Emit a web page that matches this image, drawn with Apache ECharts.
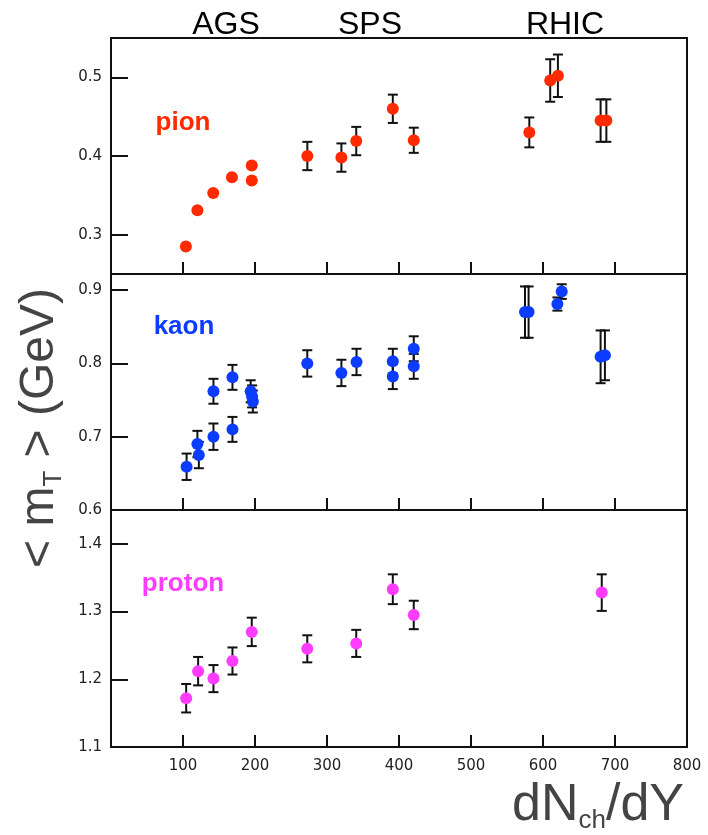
<!DOCTYPE html>
<html>
<head>
<meta charset="utf-8">
<script src="https://cdn.jsdelivr.net/npm/echarts@6/dist/echarts.min.js"></script>
<style>
  html, body { margin: 0; padding: 0; background: #fff; }
  #chart { width: 708px; height: 835px; }
</style>
</head>
<body>
<div id="chart"></div>
<script>
// <mT> vs dNch/dY
var pionX   = [104, 120, 142, 168, 195.5, 195.5, 272.7, 320, 340.6, 391.4, 420.5, 581, 610, 620.7, 680, 688];
var pionY   = [0.285, 0.331, 0.353, 0.373, 0.388, 0.369, 0.400, 0.398, 0.419, 0.460, 0.420, 0.430, 0.496, 0.502, 0.445, 0.445];
var pionErr = [0, 0, 0, 0, 0, 0, 0.018, 0.018, 0.018, 0.018, 0.016, 0.019, 0.027, 0.027, 0.027, 0.027];

var kaonX   = [105, 120, 122, 142.3, 142.3, 168.7, 168.7, 194, 196, 197, 272.6, 320, 341, 391.4, 391.4, 420.5, 420.5, 575, 580, 620, 626, 680, 686];
var kaonY   = [0.659, 0.690, 0.675, 0.762, 0.700, 0.781, 0.710, 0.762, 0.755, 0.748, 0.800, 0.787, 0.802, 0.803, 0.782, 0.820, 0.796, 0.870, 0.870, 0.881, 0.898, 0.809, 0.811];
var kaonErr = [0.018, 0.018, 0.018, 0.017, 0.018, 0.017, 0.017, 0.015, 0.015, 0.015, 0.018, 0.018, 0.018, 0.017, 0.017, 0.017, 0.017, 0.035, 0.035, 0.009, 0.010, 0.036, 0.034];

var protonX   = [104.4, 121, 142.3, 168.7, 195.5, 272.6, 340.6, 391.4, 420.5, 681.6];
var protonY   = [1.172, 1.212, 1.201, 1.227, 1.270, 1.245, 1.253, 1.333, 1.295, 1.328];
var protonErr = [0.021, 0.021, 0.020, 0.020, 0.021, 0.020, 0.020, 0.022, 0.021, 0.027];

var xTicks = [0, 800, 100];
var yRanges = [[0.25, 0.55], [0.6, 0.922], [1.1, 1.45]];
var yTickVals = [[0.3, 0.4, 0.5], [0.6, 0.7, 0.8, 0.9], [1.1, 1.2, 1.3, 1.4]];
var experiments = ['AGS', 'SPS', 'RHIC'];
var speciesNames = ['pion', 'kaon', 'proton'];
var speciesColors = ['#ff2a00', '#0b3cff', '#ff3cff'];

var chart = echarts.init(document.getElementById('chart'));

function points(xs, ys) {
    return xs.map(function (x, i) { return [x, ys[i]]; });
}
function bars(xs, ys, es) {
    var out = [];
    xs.forEach(function (x, i) {
        if (es[i] > 0) out.push([x, ys[i] - es[i], ys[i] + es[i]]);
    });
    return out;
}
function errorBar(params, api) {
    var x = api.value(0);
    var top = api.coord([x, api.value(2)]);
    var bot = api.coord([x, api.value(1)]);
    var st = { stroke: '#111', lineWidth: 2 };
    return {
        type: 'group',
        children: [
            { type: 'line', shape: { x1: top[0], y1: top[1], x2: bot[0], y2: bot[1] }, style: st },
            { type: 'line', shape: { x1: top[0] - 5, y1: top[1], x2: top[0] + 5, y2: top[1] }, style: st },
            { type: 'line', shape: { x1: bot[0] - 5, y1: bot[1], x2: bot[0] + 5, y2: bot[1] }, style: st }
        ]
    };
}

var gridTops = [38, 274, 510];
var gridH = [236, 236, 237];
var grids = [], xAxes = [], yAxes = [];
for (var i = 0; i < 3; i++) {
    grids.push({
        left: 111, right: 21, top: gridTops[i], height: gridH[i],
        show: true, borderColor: '#111', borderWidth: 2
    });
    xAxes.push({
        gridIndex: i, type: 'value', min: xTicks[0], max: xTicks[1], interval: xTicks[2],
        axisLine: { lineStyle: { color: '#111', width: 2 } },
        axisTick: { inside: true, length: 12, lineStyle: { color: '#111', width: 2 } },
        axisLabel: {
            show: i === 2, fontSize: 15, color: '#222', margin: 12,
            fontFamily: 'DejaVu Sans',
            formatter: function (v) { return v === 0 ? '' : v; }
        },
        splitLine: { show: false }
    });
    yAxes.push({
        gridIndex: i, type: 'value', min: yRanges[i][0], max: yRanges[i][1],
        axisLine: { show: true, lineStyle: { color: '#111', width: 2 } },
        axisTick: { inside: true, length: 17, customValues: yTickVals[i], lineStyle: { color: '#111', width: 2 } },
        axisLabel: {
            customValues: yTickVals[i], fontSize: 15, color: '#222', margin: 9,
            fontFamily: 'DejaVu Sans',
            formatter: function (v) { return v.toFixed(1); }
        },
        splitLine: { show: false }
    });
}

var allX = [pionX, kaonX, protonX];
var allY = [pionY, kaonY, protonY];
var allE = [pionErr, kaonErr, protonErr];
var series = [];
for (var k = 0; k < 3; k++) {
    series.push({
        type: 'custom', xAxisIndex: k, yAxisIndex: k, z: 2,
        renderItem: errorBar, data: bars(allX[k], allY[k], allE[k])
    });
    series.push({
        name: speciesNames[k], type: 'scatter', xAxisIndex: k, yAxisIndex: k, z: 3,
        symbol: 'circle', symbolSize: 12,
        itemStyle: { color: speciesColors[k], opacity: 1 },
        data: points(allX[k], allY[k])
    });
}

var expPos = [226, 370, 565];
var labelPos = [[183, 123], [184, 327], [183, 584]];
var graphics = [];
experiments.forEach(function (name, i) {
    graphics.push({
        type: 'text', x: expPos[i], y: 25,
        style: { text: name, fontSize: 32, fontFamily: 'Liberation Sans', fill: '#000', align: 'center', verticalAlign: 'middle' }
    });
});
speciesNames.forEach(function (name, i) {
    graphics.push({
        type: 'text', x: labelPos[i][0], y: labelPos[i][1],
        style: { text: name, fontSize: 26, fontWeight: 'bold', fontFamily: 'Liberation Sans', fill: speciesColors[i], align: 'center', verticalAlign: 'middle' }
    });
});
// axis titles
graphics.push({
    type: 'text', x: 598, y: 806,
    style: {
        text: '{a|dN}{s|ch}{a|/dY}', align: 'center', verticalAlign: 'middle',
        rich: {
            a: { fontSize: 52, fontFamily: 'Liberation Sans', fill: '#444', lineHeight: 56 },
            s: { fontSize: 26, fontFamily: 'Liberation Sans', fill: '#444', lineHeight: 56, verticalAlign: 'bottom', padding: [20, 0, 0, 0] }
        }
    }
});
graphics.push({
    type: 'text', x: 40, y: 428, rotation: Math.PI / 2,
    style: {
        text: '{a|< m}{s|T}{a| > (GeV)}', align: 'center', verticalAlign: 'middle',
        rich: {
            a: { fontSize: 48, fontFamily: 'Liberation Sans', fill: '#444', lineHeight: 54 },
            s: { fontSize: 26, fontFamily: 'Liberation Sans', fill: '#444', lineHeight: 54, verticalAlign: 'bottom', padding: [20, 0, 0, 0] }
        }
    }
});

var option = {
    animation: false,
    backgroundColor: '#fff',
    grid: grids,
    xAxis: xAxes,
    yAxis: yAxes,
    series: series,
    graphic: graphics
};
chart.setOption(option);
</script>
</body>
</html>
